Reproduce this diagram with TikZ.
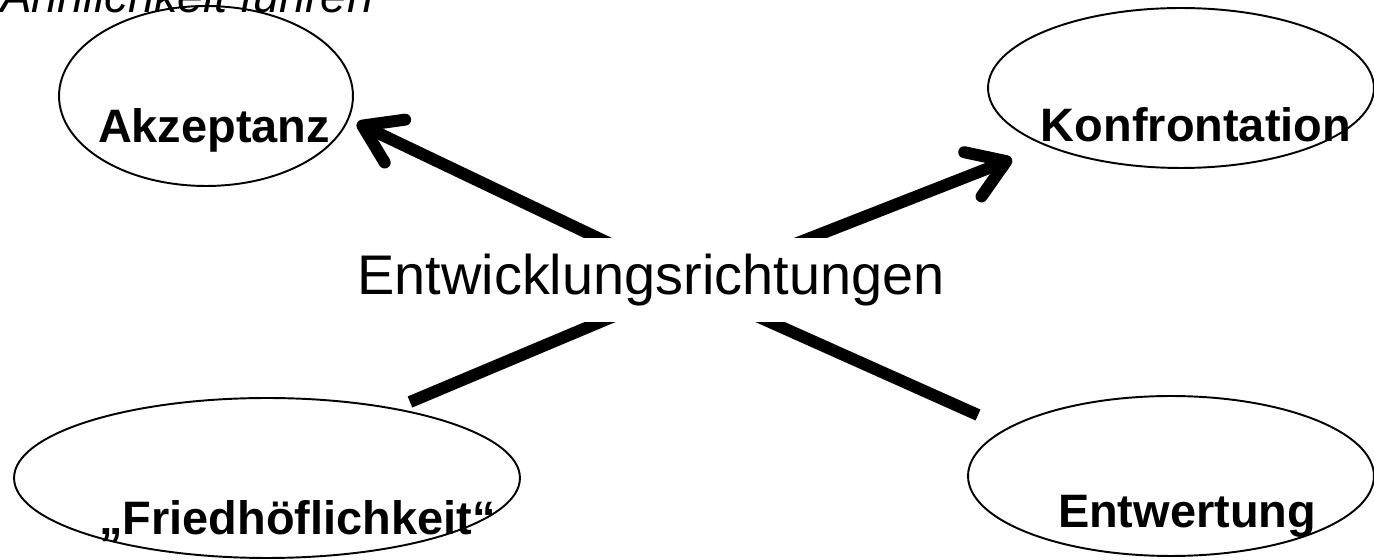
\documentclass[tikz,border=0pt]{standalone}
\usepackage{fontspec}
\setmainfont{Liberation Sans}
\usetikzlibrary{shapes.geometric,arrows.meta}
\begin{document}
\begin{tikzpicture}[x=0.02cm,y=-0.02cm,
  oval/.style={draw=black,line width=1.1pt,ellipse,inner sep=0pt},
  lbl/.style={font=\fontsize{26.7pt}{30pt}\selectfont\bfseries,anchor=base,inner sep=0pt},
  dirline/.style={line width=0.24cm,line cap=butt},
  dirarrow/.style={dirline,-{Straight Barb[length=0.72cm,width=0.95cm,round]}}]
\useasboundingbox (0,0) rectangle (1374,560);
% clipped heading text at the top
\node[anchor=base west,inner sep=0pt,font=\fontsize{26.7pt}{30pt}\selectfont\itshape] (head) at (0,13) {Ähnlichkeit führen};
% ellipses
\node[oval,minimum width=5.88cm,minimum height=3.6cm] (akz) at (206,96) {};
\node[oval,minimum width=7.72cm,minimum height=3.2cm] (kon) at (1181,88) {};
\node[oval,minimum width=10.12cm,minimum height=3.2cm] (fri) at (267,478) {};
\node[oval,minimum width=8.12cm,minimum height=3.2cm] (ent) at (1171,476) {};
% labels
\node[lbl] (akzt) at (214,143) {Akzeptanz};
\node[lbl] (kont) at (1196,142) {Konfrontation};
\node[lbl] (frit) at (297.5,535) {„Friedhöflichkeit“};
\node[lbl] (entt) at (1187,528) {Entwertung};
% connector ends
\coordinate (ulS) at (686,280);
\coordinate (urS) at (703,280);
\coordinate (llS) at (700,280);
\coordinate (lrS) at (676,280);
\coordinate (ulT) at (357,123);
\coordinate (urT) at (1012,159);
\coordinate (llT) at (410,402);
\coordinate (lrT) at (978,415);
\draw[dirarrow] (ulS) -- (ulT);
\draw[dirarrow] (urS) -- (urT);
\draw[dirline] (llS) -- (llT);
\draw[dirline] (lrS) -- (lrT);
% centre text with white box covering the lines
\node[fill=white,inner xsep=4pt,inner ysep=0pt,minimum height=1.7cm,
  font=\fontsize{31.8pt}{36pt}\selectfont] (mid) at (651,280) {Entwicklungsrichtungen};
\end{tikzpicture}
\end{document}
